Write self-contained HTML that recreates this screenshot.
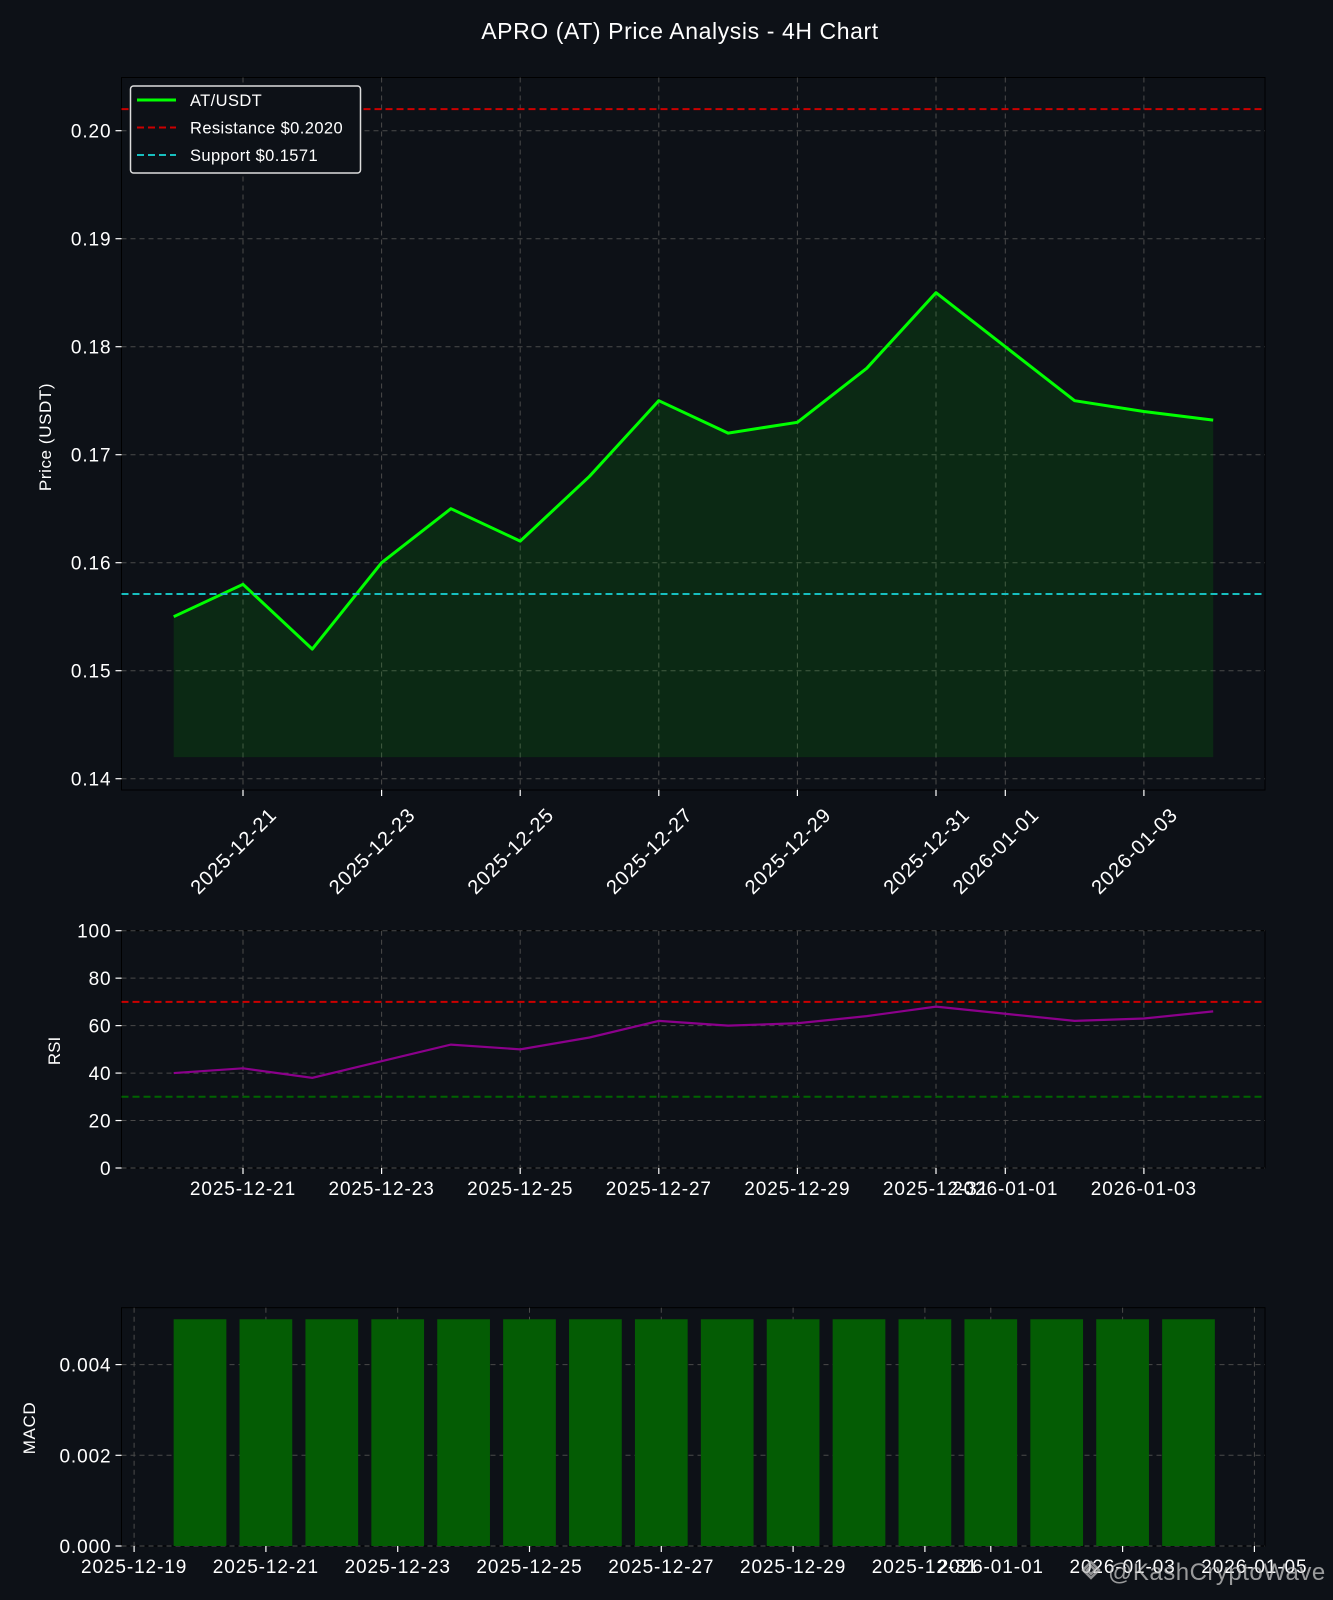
<!DOCTYPE html>
<html><head><meta charset="utf-8"><style>
html,body{margin:0;padding:0;background:#0d1117;}
svg{display:block;font-family:"Liberation Sans",sans-serif;}
</style></head><body>
<svg id="chart" width="1333" height="1600" viewBox="0 0 1333 1600">
<rect x="0" y="0" width="1333" height="1600" fill="#0d1117"/>
<text x="680" y="39" fill="#ffffff" font-size="23" letter-spacing="0.6" text-anchor="middle">APRO (AT) Price Analysis - 4H Chart</text>
<g id="price"></g>
<g id="rsi"></g>
<g id="macd"></g>
<g opacity="0.75">
<path d="M1083 1570 l8 -8 l8 8 l-8 8 z M1091 1566 l4 4 l-4 4 l-4 -4z" fill="none" stroke="#bbb" stroke-width="2.5"/>
<text x="1108" y="1580" fill="#c8c8c8" font-size="24" letter-spacing="0.5">@KashCryptoWave</text>
</g>
</svg>
<script>
const dayOffsets=[0,1,2,3,4,5,6,7,8,9,10,11,12,13,14,15];
const priceValues=[0.155,0.158,0.152,0.160,0.165,0.162,0.168,0.175,0.172,0.173,0.178,0.185,0.180,0.175,0.174,0.1732];
const rsiValues=[40,42,38,45,52,50,55,62,60,61,64,68,65,62,63,66];
const macdValues=[0.005,0.005,0.005,0.005,0.005,0.005,0.005,0.005,0.005,0.005,0.005,0.005,0.005,0.005,0.005,0.005];
const priceTicks=[0.14,0.15,0.16,0.17,0.18,0.19,0.20];
const rsiTicks=[0,20,40,60,80,100];
const macdTicks=[0,0.002,0.004];
const dateTickOffsets=[1,3,5,7,9,11,12,14];
const dateTickLabels=['2025-12-21','2025-12-23','2025-12-25','2025-12-27','2025-12-29','2025-12-31','2026-01-01','2026-01-03'];
const macdDateOffsets=[-1,1,3,5,7,9,11,12,14,16];
const macdDateLabels=['2025-12-19','2025-12-21','2025-12-23','2025-12-25','2025-12-27','2025-12-29','2025-12-31','2026-01-01','2026-01-03','2026-01-05'];
const resistance=0.2020, support=0.1571, fillBase=0.142;
const rsiHigh=70, rsiLow=30;

const NS='http://www.w3.org/2000/svg';
function mk(parent,tag,attrs){const e=document.createElementNS(NS,tag);for(const k in attrs)e.setAttribute(k,attrs[k]);parent.appendChild(e);return e;}
const L=121.5,R=1265;
const FS=19, LS=0.9;
const xMain=d=>173.7+d*69.3;
const xMacd=d=>200+d*65.9;
const yPrice=v=>130.7+(0.20-v)*10800;
const yRsi=v=>1168-(v/100)*237.3;
const yMacd=v=>1546-(v/0.002)*90.7;
const grid='#4a4a4a';

function frame(g,top,bot){
  mk(g,'rect',{x:L,y:top,width:R-L,height:bot-top,fill:'#0d1117',stroke:'#000',"stroke-width":1});
}
function vgrid(g,xs,top,bot){xs.forEach(x=>{const l=mk(g,'line',{x1:x,x2:x,y1:top,y2:bot,stroke:grid,"stroke-dasharray":"5,4","stroke-width":1});});}
function yaxis(g,ticks,fy,fmt,top,bot){
  ticks.forEach(t=>{const y=fy(t);
    const gl=mk(g,'line',{x1:L,x2:R,y1:y,y2:y,stroke:grid,"stroke-dasharray":"5,4","stroke-width":1});
    
    mk(g,'line',{x1:L-6,x2:L,y1:y,y2:y,stroke:'#fff',"stroke-width":1.2});
    const tx=mk(g,'text',{x:L-10,y:y+7,fill:'#fff',"font-size":FS,"letter-spacing":LS,"text-anchor":"end"});tx.textContent=fmt(t);
    
  });
}
// PRICE
(function(){
  const g=document.getElementById('price');const top=77.5,bot=790;
  frame(g,top,bot);
  vgrid(g,dateTickOffsets.map(xMain),top,bot);
  yaxis(g,priceTicks,yPrice,v=>v.toFixed(2),top,bot);
  let d='M'+xMain(dayOffsets[0])+','+yPrice(fillBase);
  dayOffsets.forEach((o,i)=>d+=' L'+xMain(o)+','+yPrice(priceValues[i]));
  d+=' L'+xMain(dayOffsets[dayOffsets.length-1])+','+yPrice(fillBase)+' Z';
  const f=mk(g,'path',{d:d,fill:'#00ff00',"fill-opacity":0.1});
  
  const pts=dayOffsets.map((o,i)=>xMain(o)+','+yPrice(priceValues[i])).join(' ');
  const pl=mk(g,'polyline',{points:pts,fill:'none',stroke:'#00ff00',"stroke-width":3,"stroke-linejoin":"round"});
  
  const r=mk(g,'line',{x1:L,x2:R,y1:yPrice(resistance),y2:yPrice(resistance),stroke:'#cc0000',"stroke-width":2,"stroke-dasharray":"7,4"});
  
  const s=mk(g,'line',{x1:L,x2:R,y1:yPrice(support),y2:yPrice(support),stroke:'#17bfbf',"stroke-width":2,"stroke-dasharray":"7,4"});
  
  dateTickOffsets.forEach((o,i)=>{const x=xMain(o);
    mk(g,'line',{x1:x,x2:x,y1:bot,y2:bot+6,stroke:'#fff',"stroke-width":1.2});
    const tx=x+35, ty=bot+26;
    const t=mk(g,'text',{x:tx,y:ty,fill:'#fff',"font-size":20,"letter-spacing":1,"text-anchor":"end",transform:`rotate(-45 ${tx} ${ty})`});
    t.textContent=dateTickLabels[i];
  });
  const yl=mk(g,'text',{x:51,y:437,fill:'#fff',"font-size":17,"letter-spacing":0.6,"text-anchor":"middle",transform:'rotate(-90 51 437)'});
  yl.textContent='Price (USDT)';
  const lg=mk(g,'g',{});
  mk(lg,'rect',{x:130.5,y:86,width:230,height:87,rx:3,fill:'#0d1117',stroke:'#ddd',"stroke-width":1.5});
  const items=[['AT/USDT','#00ff00',''],['Resistance $0.2020','#cc0000','7,4'],['Support $0.1571','#17bfbf','7,4']];
  items.forEach((it,i)=>{const y=100+i*27.5;
    mk(lg,'line',{x1:137,x2:176,y1:y,y2:y,stroke:it[1],"stroke-width":it[2]?2:3,"stroke-dasharray":it[2]||'none'});
    const t=mk(lg,'text',{x:190,y:y+6,fill:'#fff',"font-size":16.5,"letter-spacing":0.4});t.textContent=it[0];
    
  });
})();
// RSI
(function(){
  const g=document.getElementById('rsi');const top=930.7,bot=1168;
  frame(g,top,bot);
  vgrid(g,dateTickOffsets.map(xMain),top,bot);
  yaxis(g,rsiTicks,yRsi,v=>String(v),top,bot);
  [[rsiHigh,'#cc0000','rsi-overbought-line'],[rsiLow,'#006400','rsi-oversold-line']].forEach(a=>{
    const l=mk(g,'line',{x1:L,x2:R,y1:yRsi(a[0]),y2:yRsi(a[0]),stroke:a[1],"stroke-width":2,"stroke-dasharray":"7,4"});
    });
  const pts=dayOffsets.map((o,i)=>xMain(o)+','+yRsi(rsiValues[i])).join(' ');
  const pl=mk(g,'polyline',{points:pts,fill:'none',stroke:'#8b008b',"stroke-width":2.2});
  
  dateTickOffsets.forEach((o,i)=>{const x=xMain(o);
    mk(g,'line',{x1:x,x2:x,y1:bot,y2:bot+6,stroke:'#fff',"stroke-width":1.2});
    const t=mk(g,'text',{x:x,y:bot+27,fill:'#fff',"font-size":FS,"letter-spacing":LS,"text-anchor":"middle"});
    t.textContent=dateTickLabels[i];});
  const yl=mk(g,'text',{x:60,y:1051,fill:'#fff',"font-size":17,"text-anchor":"middle",transform:'rotate(-90 60 1051)'});
  yl.textContent='RSI';
})();
// MACD
(function(){
  const g=document.getElementById('macd');const top=1307.7,bot=1546;
  frame(g,top,bot);
  vgrid(g,macdDateOffsets.map(xMacd),top,bot);
  yaxis(g,macdTicks,yMacd,v=>v.toFixed(3),top,bot);
  const bw=0.8*65.9;
  dayOffsets.forEach((o,i)=>{const y=yMacd(macdValues[i]);
    const b=mk(g,'rect',{x:xMacd(o)-bw/2,y:y,width:bw,height:yMacd(0)-y,fill:'#045c04'});
    });
  macdDateOffsets.forEach((o,i)=>{const x=xMacd(o);
    mk(g,'line',{x1:x,x2:x,y1:bot,y2:bot+6,stroke:'#fff',"stroke-width":1.2});
    const t=mk(g,'text',{x:x,y:bot+27,fill:'#fff',"font-size":FS,"letter-spacing":LS,"text-anchor":"middle"});
    t.textContent=macdDateLabels[i];});
  const yl=mk(g,'text',{x:35,y:1428,fill:'#fff',"font-size":17,"letter-spacing":0.6,"text-anchor":"middle",transform:'rotate(-90 35 1428)'});
  yl.textContent='MACD';
})();
</script>
</body></html>
